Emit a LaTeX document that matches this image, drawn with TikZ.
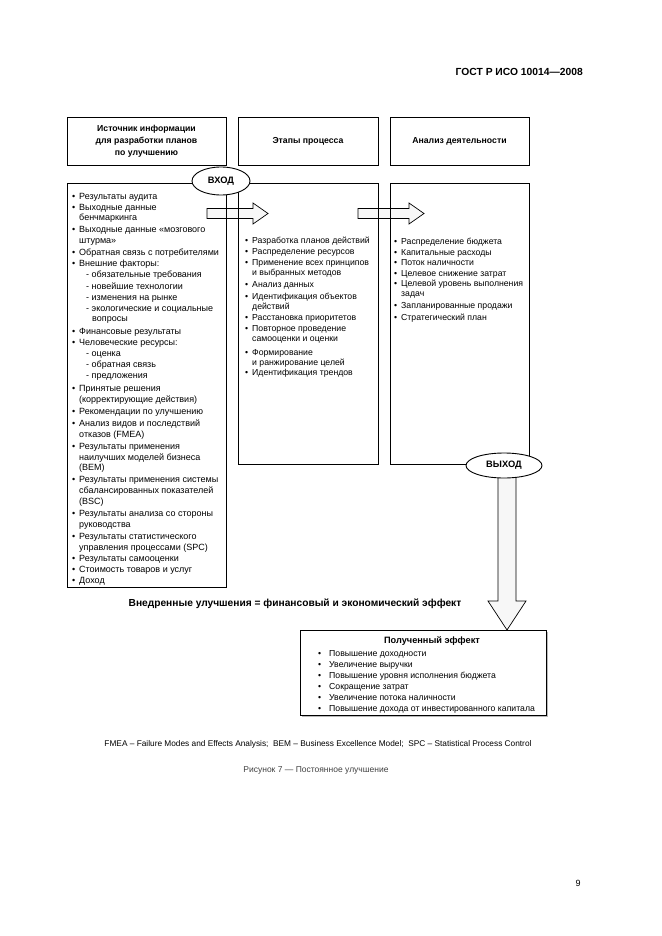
\documentclass[tikz,border=0pt]{standalone}
\usepackage{fontspec}
\setmainfont{Liberation Sans}
\usetikzlibrary{shapes.geometric}
\newcommand\mybul{\makebox[7pt][l]{•}}
\newcommand\mybulw{\makebox[11pt][l]{•}}
\begin{document}
\begin{tikzpicture}[x=1pt,y=-1pt,
  frame/.style={draw, line width=0.8pt, inner sep=0pt},
  body/.style={anchor=base west, inner sep=0pt, font=\fontsize{8.7}{10}\selectfont},
  lbody/.style={anchor=base west, inner sep=0pt, font=\fontsize{9.0}{10}\selectfont},
  head/.style={font=\bfseries\fontsize{8.7}{12}\selectfont, align=center},
  oval/.style={ellipse, draw, fill=white, line width=0.9pt, inner sep=0pt, font=\bfseries\fontsize{9.3}{10}\selectfont},
  blockarrow/.style={draw, fill=gray!6, line width=0.7pt, line join=miter},
]
\useasboundingbox (0,0) rectangle (661,936);

% page header
\node[anchor=base east, inner sep=0pt, font=\bfseries\fontsize{10.3}{12}\selectfont] (gost) at (583,76) {ГОСТ Р ИСО 10014—2008};

% block arrows (drawn first, box lines on top)
\draw[blockarrow] (207,208.5) -- (253,208.5) -- (253,203) -- (268,213.5) -- (253,224) -- (253,218.5) -- (207,218.5) -- cycle;
\draw[blockarrow] (358,208.5) -- (409,208.5) -- (409,203) -- (424,213.5) -- (409,224) -- (409,218.5) -- (358,218.5) -- cycle;
\draw[blockarrow] (498,470) -- (516,470) -- (516,601) -- (526,601) -- (507,630) -- (488,601) -- (498,601) -- cycle;

% header boxes
\node[frame, minimum width=159pt, minimum height=48pt, head] (h1) at (146.5,141.5) {Источник информации\\для разработки планов\\по улучшению};
\node[frame, minimum width=140pt, minimum height=48pt, head] (h2) at (308,141.5) {Этапы процесса};
\node[frame, minimum width=139pt, minimum height=48pt, head] (h3) at (459.5,141.5) {Анализ деятельности};

% content boxes
\node[frame, minimum width=159pt, minimum height=404pt] (c1) at (146.5,385) {};
\node[frame, minimum width=140pt, minimum height=281pt] (c2) at (308,323.5) {};
\node[frame, minimum width=139pt, minimum height=281pt] (c3) at (459.5,323.5) {};

% ovals
\node[oval, minimum width=58pt, minimum height=28pt] (in) at (221,181) {ВХОД};
\node[oval, minimum width=76pt, minimum height=25pt] (out) at (504,465.5) {ВЫХОД};

% left column
\foreach \x/\y/\t [count=\i] in {
 72/199/{\mybul Результаты аудита},
 72/210/{\mybul Выходные данные},
 79/220/{бенчмаркинга},
 72/232/{\mybul Выходные данные «мозгового},
 79/243/{штурма»},
 72/255/{\mybul Обратная связь с потребителями},
 72/266/{\mybul Внешние факторы:},
 86/277/{- обязательные требования},
 86/289/{- новейшие технологии},
 86/300/{- изменения на рынке},
 86/311/{- экологические и социальные},
 92/321/{вопросы},
 72/334/{\mybul Финансовые результаты},
 72/345/{\mybul Человеческие ресурсы:},
 86/356/{- оценка},
 86/367/{- обратная связь},
 86/378/{- предложения},
 72/391/{\mybul Принятые решения},
 79/402/{(корректирующие действия)},
 72/414/{\mybul Рекомендации по улучшению},
 72/426/{\mybul Анализ видов и последствий},
 79/437/{отказов (FMEA)},
 72/449/{\mybul Результаты применения},
 79/460/{наилучших моделей бизнеса},
 79/470/{(BEM)},
 72/482/{\mybul Результаты применения системы},
 79/493/{сбалансированных показателей},
 79/504/{(BSC)},
 72/516/{\mybul Результаты анализа со стороны},
 79/527/{руководства},
 72/539/{\mybul Результаты статистического},
 79/550/{управления процессами (SPC)},
 72/561/{\mybul Результаты самооценки},
 72/572/{\mybul Стоимость товаров и услуг},
 72/583/{\mybul Доход}}
 \node[lbody] (l\i) at (\x,\y) {\t};

% middle column
\foreach \x/\y/\t [count=\i] in {
 245/243/{\mybul Разработка планов действий},
 245/254/{\mybul Распределение ресурсов},
 245/265/{\mybul Применение всех принципов},
 252/275/{и выбранных методов},
 245/287/{\mybul Анализ данных},
 245/299/{\mybul Идентификация объектов},
 252/309/{действий},
 245/320/{\mybul Расстановка приоритетов},
 245/331/{\mybul Повторное проведение},
 252/341/{самооценки и оценки},
 245/355/{\mybul Формирование},
 252/365/{и ранжирование целей},
 245/375/{\mybul Идентификация трендов}}
 \node[body] (m\i) at (\x,\y) {\t};

% right column
\foreach \x/\y/\t [count=\i] in {
 394/244/{\mybul Распределение бюджета},
 394/255/{\mybul Капитальные расходы},
 394/265/{\mybul Поток наличности},
 394/276/{\mybul Целевое снижение затрат},
 394/286/{\mybul Целевой уровень выполнения},
 401/296/{задач},
 394/308/{\mybul Запланированные продажи},
 394/320/{\mybul Стратегический план}}
 \node[body] (r\i) at (\x,\y) {\t};

% middle statement
\node[anchor=base, inner sep=0pt, font=\bfseries\fontsize{10.2}{12}\selectfont] (eq) at (295,606) {Внедренные улучшения = финансовый и экономический эффект};

% result box
\fill[gray!55] (302,632) rectangle (548,717);
\node[frame, fill=white, minimum width=246pt, minimum height=85pt] (res) at (423,672.5) {};
\node[anchor=base, inner sep=0pt, font=\bfseries\fontsize{9.2}{11}\selectfont] (rt) at (432,643) {Полученный эффект};
\foreach \y/\t [count=\i] in {
 656/{Повышение доходности},
 667/{Увеличение выручки},
 678/{Повышение уровня исполнения бюджета},
 689/{Сокращение затрат},
 700/{Увеличение потока наличности},
 711/{Повышение дохода от инвестированного капитала}}
 \node[body] (e\i) at (318,\y) {\mybulw\t};

% footnote and caption
\node[anchor=base, inner sep=0pt, font=\fontsize{8.3}{10}\selectfont] (fn) at (318,746) {FMEA – Failure Modes and Effects Analysis;\ \ BEM – Business Excellence Model;\ \ SPC – Statistical Process Control};
\node[anchor=base, inner sep=0pt, font=\fontsize{8.5}{10}\selectfont, text=black!75] (cap) at (316,772) {Рисунок 7 — Постоянное улучшение};
\node[anchor=base, inner sep=0pt, font=\fontsize{9}{10}\selectfont] (pg) at (578,886) {9};
\end{tikzpicture}
\end{document}
